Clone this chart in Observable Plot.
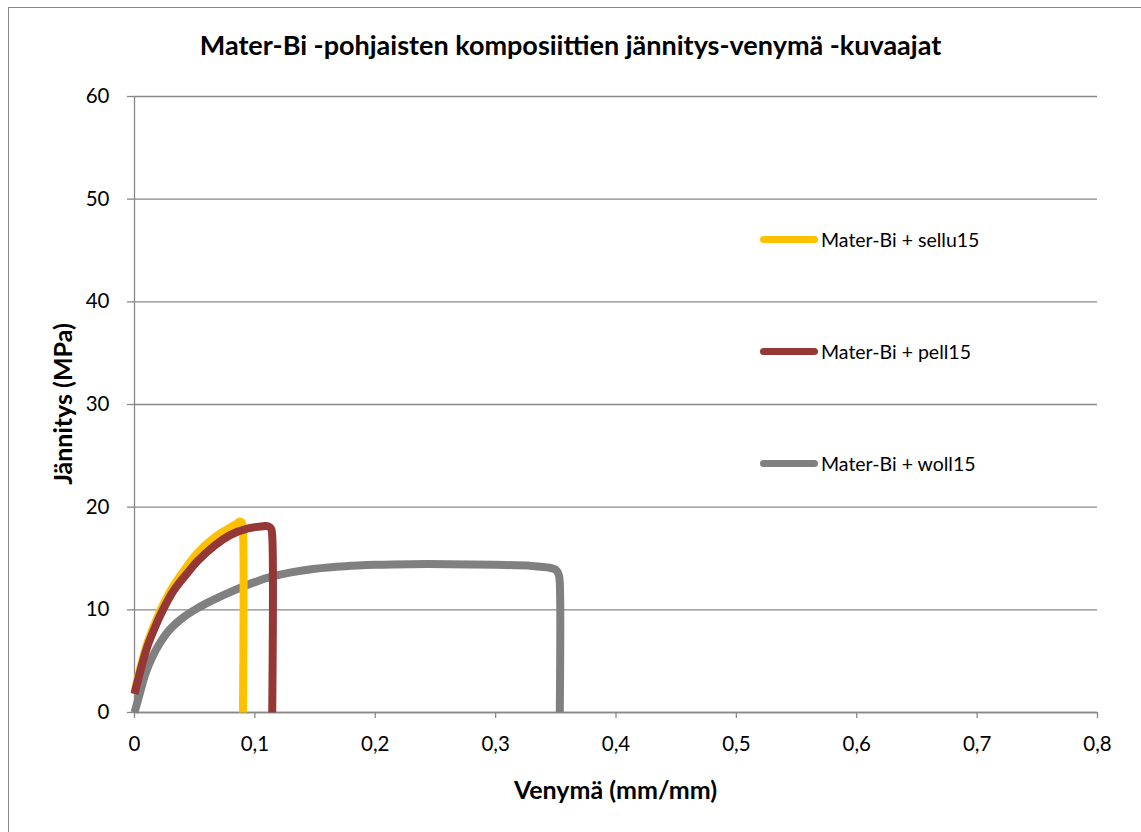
<!DOCTYPE html>
<html>
<head>
<meta charset="utf-8">
<script src="https://cdn.jsdelivr.net/npm/d3@7"></script>
<script src="https://cdn.jsdelivr.net/npm/@observablehq/plot@0.6"></script>
<style>
  html, body { margin: 0; padding: 0; background: #fff; }
  #wrap { position: relative; width: 1141px; height: 832px; overflow: hidden; font-family: Lato, "Open Sans", sans-serif; color: #000; }
  #frame { position: absolute; left: 8px; top: 7px; width: 1200px; height: 900px; border-left: 1px solid #888; border-top: 1px solid #888; }
  #chart { position: absolute; left: 0; top: 0; }
  #title { position: absolute; left: 0; width: 1141px; top: 28px; line-height: 34px; text-align: center; font-weight: bold; font-size: 27px; }
  #xlabel { position: absolute; left: 134px; width: 963px; top: 774px; line-height: 30px; text-align: center; font-weight: bold; font-size: 25px; }
  #ylabel { position: absolute; left: 62px; top: 404px; line-height: 30px; transform: translate(-50%, -50%) rotate(-90deg); font-weight: bold; font-size: 25px; white-space: nowrap; }
  .leg { position: absolute; left: 760px; display: flex; align-items: center; font-size: 19.5px; white-space: nowrap; }
  .leg span.sw { display: inline-block; width: 58px; height: 7px; border-radius: 4px; margin-right: 3px; }
</style>
</head>
<body>
<div id="wrap">
  <div id="frame"></div>
  <div id="chart"></div>
  <div id="title"></div>
  <div id="xlabel"></div>
  <div id="ylabel"></div>
  <div id="legend"></div>
</div>
<script>
// ---- Data ----
const titleText = "Mater-Bi -pohjaisten komposiittien jännitys-venymä -kuvaajat";
const xLabel = "Venymä (mm/mm)";
const yLabel = "Jännitys (MPa)";
const seriesNames = ["Mater-Bi + sellu15", "Mater-Bi + pell15", "Mater-Bi + woll15"];
const seriesColors = ["#FFC000", "#953735", "#808080"];
const xTicks = [0, 0.1, 0.2, 0.3, 0.4, 0.5, 0.6, 0.7, 0.8];
const yTicks = [0, 10, 20, 30, 40, 50, 60];

const selluX = [0, 0.005, 0.0105, 0.0174, 0.023, 0.0327, 0.0437, 0.052, 0.066, 0.080, 0.085, 0.0875, 0.0893, 0.0901, 0.0901];
const selluY = [2.0, 4.4, 6.7, 8.8, 10.3, 12.4, 14.25, 15.5, 17.0, 18.05, 18.4, 18.6, 18.5, 17.8, 0];

const pellX = [0, 0.005, 0.0105, 0.0174, 0.023, 0.0327, 0.0437, 0.052, 0.066, 0.0798, 0.0936, 0.107, 0.111, 0.1135, 0.1144, 0.1144];
const pellY = [1.8, 4.1, 6.36, 8.4, 9.85, 11.9, 13.55, 14.7, 16.2, 17.3, 17.9, 18.15, 18.15, 17.9, 17.2, 0];

const wollX = [0, 0.005, 0.0091, 0.0147, 0.0216, 0.0299, 0.041, 0.050, 0.060, 0.0687, 0.078, 0.088, 0.1, 0.113, 0.13, 0.15, 0.175, 0.2, 0.23, 0.26, 0.3, 0.33, 0.345, 0.35, 0.3525, 0.3533, 0.3533];
const wollY = [0, 2.1, 3.77, 5.39, 6.85, 8.15, 9.3, 10.0, 10.65, 11.15, 11.65, 12.15, 12.7, 13.2, 13.65, 14.0, 14.25, 14.38, 14.45, 14.45, 14.38, 14.28, 14.1, 13.9, 13.4, 12.6, 0];

// ---- Build table ----
const seriesX = [selluX, pellX, wollX];
const seriesY = [selluY, pellY, wollY];
const rows = [];
seriesNames.forEach((name, i) => {
  seriesX[i].forEach((x, j) => rows.push({series: name, x, y: seriesY[i][j]}));
});
const fmt = d => String(d).replace(".", ",");
const drawOrder = [2, 0, 1]; // grey below, yellow, red on top

const plot = Plot.plot({
  width: 1141,
  height: 832,
  marginLeft: 134,
  marginRight: 44,
  marginTop: 96,
  marginBottom: 120,
  style: {fontFamily: "Lato, 'Open Sans', sans-serif", fontSize: "20.5px", color: "black", background: "transparent", overflow: "visible"},
  x: {domain: [0, 0.8]},
  y: {domain: [0, 60]},
  marks: [
    Plot.gridY(yTicks, {stroke: "#888", strokeOpacity: 1, strokeWidth: 1.3}),
    Plot.axisY({ticks: yTicks, tickSize: 7, tickPadding: 18, stroke: "#888", strokeWidth: 1.3, label: null, tickFormat: fmt}),
    Plot.axisX({ticks: xTicks, tickSize: 6, tickPadding: 18, stroke: "#888", strokeWidth: 1.3, label: null, tickFormat: fmt}),
    Plot.ruleX([0], {stroke: "#888", strokeWidth: 1.3}),
    Plot.ruleY([0], {stroke: "#888", strokeWidth: 1.3}),
    ...drawOrder.map(i => Plot.line(rows.filter(r => r.series === seriesNames[i]), {
      x: "x", y: "y", stroke: seriesColors[i], strokeWidth: 8,
      strokeLinecap: "butt", strokeLinejoin: "round", curve: "catmull-rom"
    }))
  ]
});
document.getElementById("chart").appendChild(plot);
document.getElementById("title").textContent = titleText;
document.getElementById("xlabel").textContent = xLabel;
document.getElementById("ylabel").textContent = yLabel;

const legTops = [239, 351, 463];
const legend = document.getElementById("legend");
seriesNames.forEach((name, i) => {
  const d = document.createElement("div");
  d.className = "leg";
  d.style.top = (legTops[i] - 12) + "px";
  d.style.height = "24px";
  const sw = document.createElement("span");
  sw.className = "sw";
  sw.style.background = seriesColors[i];
  const t = document.createElement("span");
  t.textContent = name;
  d.appendChild(sw); d.appendChild(t);
  legend.appendChild(d);
});
</script>
</body>
</html>
